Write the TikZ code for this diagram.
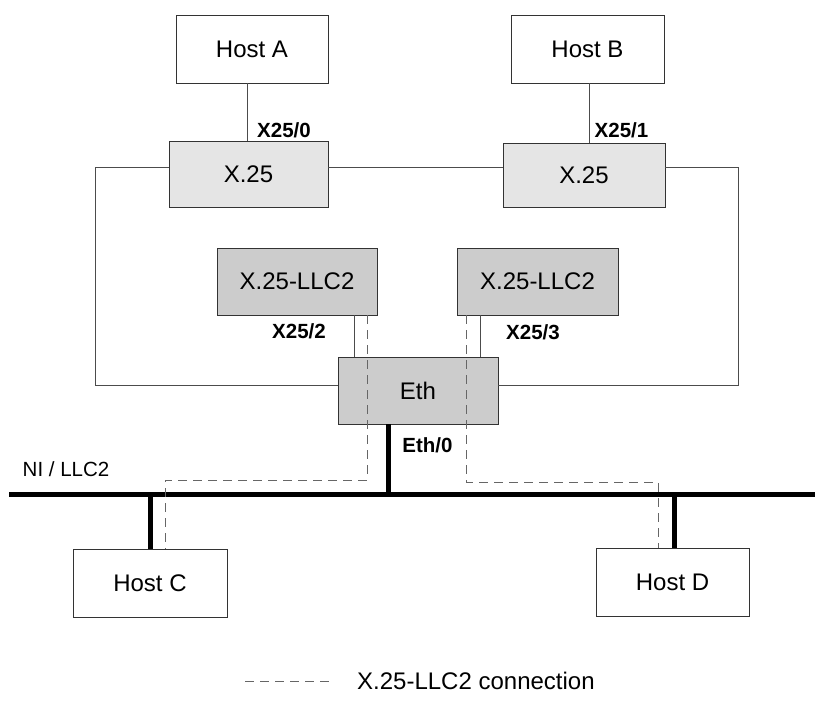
\documentclass[tikz,border=0pt]{standalone}
\usepackage{fontspec}
\setmainfont{Liberation Sans}
\begin{document}
\begin{tikzpicture}[x=1pt,y=-1pt,
  box/.style={draw=black!80,line width=0.8pt,rectangle,inner sep=0pt,anchor=center,font=\fontsize{24}{28}\selectfont},
  host/.style={box,fill=white},
  xbox/.style={box,fill=black!10},
  lbox/.style={box,fill=black!20},
  wire/.style={draw=black!70,line width=0.8pt},
  conn/.style={draw=black!60,line width=0.8pt,dash pattern=on 9pt off 6pt},
  bus/.style={draw=black,line width=5pt},
  plabel/.style={inner sep=0pt,anchor=center,font=\fontsize{20.5}{24}\selectfont\bfseries},
  tlabel/.style={inner sep=0pt,font=\fontsize{20.5}{24}\selectfont}]
\useasboundingbox (0,0) rectangle (815,703);
% nodes
\node[host,minimum width=152pt,minimum height=68pt] (HostA) at (252,49) {Host A};
\node[host,minimum width=153pt,minimum height=68pt] (HostB) at (587.5,49) {Host B};
\node[xbox,minimum width=159pt,minimum height=66pt] (X25L) at (248.5,174) {X.25};
\node[xbox,minimum width=162pt,minimum height=64pt] (X25R) at (584,175) {X.25};
\node[lbox,minimum width=160pt,minimum height=67pt] (LLCL) at (297,281.5) {X.25-LLC2};
\node[lbox,minimum width=161pt,minimum height=67pt] (LLCR) at (537.5,281.5) {X.25-LLC2};
\node[lbox,minimum width=160pt,minimum height=67pt] (Eth) at (418,390.5) {Eth};
\node[host,minimum width=154pt,minimum height=68pt] (HostC) at (150,583) {Host C};
\node[host,minimum width=153pt,minimum height=68pt] (HostD) at (672.5,582) {Host D};
% helper coordinates
\coordinate (xa) at (247,0);
\coordinate (xb) at (589,0);
\coordinate (LT) at (95,167);
\coordinate (LB) at (95,385);
\coordinate (RT) at (738,167);
\coordinate (RB) at (738,385);
\coordinate (s2) at (354,0);
\coordinate (s3) at (480,0);
\coordinate (busL) at (9,495);
\coordinate (busR) at (815,495);
\coordinate (e0) at (388,0);
\coordinate (dL1) at (367,480);
\coordinate (dL2) at (165,480);
\coordinate (dR1) at (466,482);
\coordinate (dR2) at (658,482);
\coordinate (legA) at (245,681);
\coordinate (legB) at (330,681);
% thin wires
\draw[wire] (HostA.south -| xa) -- (X25L.north -| xa);
\draw[wire] (HostB.south -| xb) -- (X25R.north -| xb);
\draw[wire] (LT -| X25L.west) -- (LT) -- (LB) -- (LB -| Eth.west);
\draw[wire] (LT -| X25L.east) -- (LT -| X25R.west);
\draw[wire] (RT -| X25R.east) -- (RT) -- (RB) -- (RB -| Eth.east);
\draw[wire] (LLCL.south -| s2) -- (Eth.north -| s2);
\draw[wire] (LLCR.south -| s3) -- (Eth.north -| s3);
% bus
\draw[bus] (busL) -- (busR);
\draw[bus] (Eth.south -| e0) -- (busL -| e0);
\draw[bus] (HostC.north) -- (HostC.north |- busL);
\draw[bus] ([xshift=1.5pt]HostD.north) -- ([xshift=1.5pt]HostD.north |- busL);
% dashed connections
\draw[conn] (LLCL.south -| dL1) -- (dL1) -- (dL2) -- (HostC.north -| dL2);
\draw[conn] (LLCR.south -| dR1) -- (dR1) -- (dR2) -- (HostD.north -| dR2);
% labels
\node[plabel] (l0) at (284,130) {X25/0};
\node[plabel] (l1) at (621.5,130) {X25/1};
\node[plabel] (l2) at (299,331) {X25/2};
\node[plabel] (l3) at (533,332) {X25/3};
\node[plabel] (l4) at (427.5,445) {Eth/0};
\node[tlabel,anchor=center] (ni) at (66,469) {NI / LLC2};
% legend
\draw[conn] (legA) -- (legB);
\node[inner sep=0pt,anchor=west,font=\fontsize{24}{28}\selectfont] (legT) at (357,681) {X.25-LLC2 connection};
\end{tikzpicture}
\end{document}
